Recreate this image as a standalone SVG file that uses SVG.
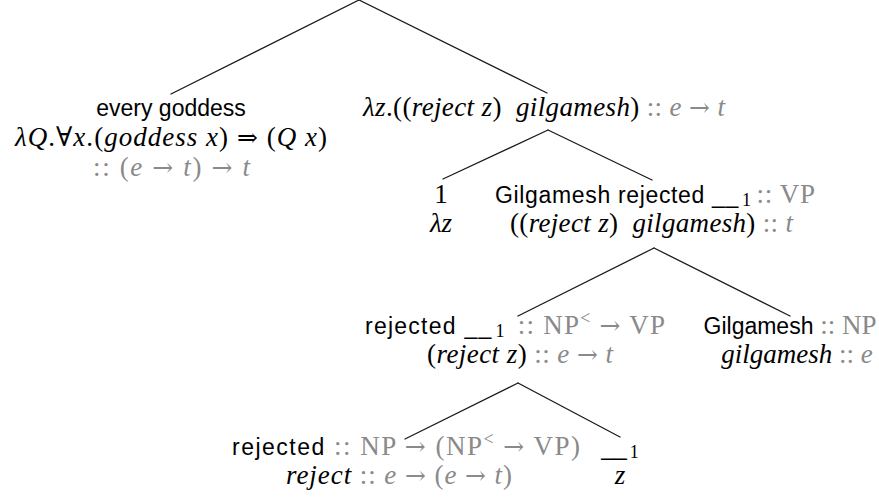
<svg xmlns="http://www.w3.org/2000/svg" width="879" height="503" viewBox="0 0 879 503">
  <style>
    text { font-family: "Liberation Serif", "DejaVu Serif", serif; font-size: 27px; fill: #000; text-anchor: middle; }
    .sf { font-family: "Liberation Sans", "DejaVu Sans", sans-serif; font-size: 23px; }
    .mi { font-style: italic; }
    .ar { font-family: "DejaVu Serif", serif; font-size: 25px; }
    .ty { fill: #8a8a8a; }
    .sub { font-size: 18px; }
    .edge { stroke: #1a1a1a; stroke-width: 1.3; fill: none; stroke-linecap: round; }
  </style>
  <rect width="879" height="503" fill="#fff"/>

  <!-- tree edges -->
  <g id="edges">
    <path class="edge" d="M359,0 L171,94"/>
    <path class="edge" d="M359,0 L547,93"/>
    <path class="edge" d="M548,130 L443,179"/>
    <path class="edge" d="M548,130 L652,180"/>
    <path class="edge" d="M654,248 L518,316"/>
    <path class="edge" d="M654,248 L790,316"/>
    <path class="edge" d="M518,383 L405,439"/>
    <path class="edge" d="M518,383 L620,437"/>
  </g>

  <!-- every goddess -->
  <g id="n-every-goddess">
    <text class="sf" x="171" y="116">every goddess</text>
    <text x="171" y="146" textLength="312" lengthAdjust="spacing"><tspan class="mi">λQ</tspan>.∀<tspan class="mi">x</tspan>.(<tspan class="mi">goddess x</tspan>) <tspan class="ar">⇒</tspan> (<tspan class="mi">Q x</tspan>)</text>
    <text class="ty" x="171.5" y="176" textLength="157" lengthAdjust="spacing">:: (<tspan class="mi">e</tspan> <tspan class="ar">→</tspan> <tspan class="mi">t</tspan>) <tspan class="ar">→</tspan> <tspan class="mi">t</tspan></text>
  </g>

  <!-- lambda abstraction -->
  <g id="n-lambda">
    <text x="544" y="116" textLength="362" lengthAdjust="spacing"><tspan class="mi">λz</tspan>.((<tspan class="mi">reject z</tspan>)&#160; <tspan class="mi">gilgamesh</tspan>)<tspan class="ty"> :: <tspan class="mi">e</tspan> <tspan class="ar">→</tspan> <tspan class="mi">t</tspan></tspan></text>
  </g>

  <!-- index 1 -->
  <g id="n-index">
    <text x="441" y="203">1</text>
    <text class="mi" x="441" y="232">λz</text>
  </g>

  <!-- Gilgamesh rejected __1 -->
  <g id="n-sentence">
    <text x="655" y="203" textLength="320" lengthAdjust="spacing"><tspan class="sf">Gilgamesh rejected __</tspan><tspan class="sub" dx="3" dy="3">1</tspan><tspan class="ty" dx="5" dy="-3">:: VP</tspan></text>
    <text x="651.5" y="232" textLength="283" lengthAdjust="spacing">((<tspan class="mi">reject z</tspan>)&#160; <tspan class="mi">gilgamesh</tspan>)<tspan class="ty"> :: <tspan class="mi">t</tspan></tspan></text>
  </g>

  <!-- rejected __1 -->
  <g id="n-vp">
    <text x="515" y="334" textLength="300" lengthAdjust="spacing"><tspan class="sf">rejected __</tspan><tspan class="sub" dx="3" dy="3">1</tspan><tspan class="ty" dx="12" dy="-3">:: NP</tspan><tspan class="ty sub" dy="-10">&lt;</tspan><tspan class="ty" dy="10"> <tspan class="ar">→</tspan> VP</tspan></text>
    <text x="520" y="363" textLength="186" lengthAdjust="spacing">(<tspan class="mi">reject z</tspan>)<tspan class="ty"> :: <tspan class="mi">e</tspan> <tspan class="ar">→</tspan> <tspan class="mi">t</tspan></tspan></text>
  </g>

  <!-- Gilgamesh -->
  <g id="n-gilgamesh">
    <text x="790" y="334"><tspan class="sf">Gilgamesh</tspan><tspan class="ty"> :: NP</tspan></text>
    <text x="797" y="363"><tspan class="mi">gilgamesh</tspan><tspan class="ty"> :: <tspan class="mi">e</tspan></tspan></text>
  </g>

  <!-- rejected -->
  <g id="n-verb">
    <text x="406" y="455" textLength="348" lengthAdjust="spacing"><tspan class="sf">rejected</tspan><tspan class="ty"> :: NP <tspan class="ar">→</tspan> (NP</tspan><tspan class="ty sub" dy="-10">&lt;</tspan><tspan class="ty" dy="10"> <tspan class="ar">→</tspan> VP)</tspan></text>
    <text x="399" y="484" textLength="226" lengthAdjust="spacing"><tspan class="mi">reject</tspan><tspan class="ty"> :: <tspan class="mi">e</tspan> <tspan class="ar">→</tspan> (<tspan class="mi">e</tspan> <tspan class="ar">→</tspan> <tspan class="mi">t</tspan>)</tspan></text>
  </g>

  <!-- trace __1 -->
  <g id="n-trace">
    <text x="620" y="455"><tspan class="sf">__</tspan><tspan class="sub" dx="3" dy="3">1</tspan></text>
    <text class="mi" x="620" y="484">z</text>
  </g>
</svg>
